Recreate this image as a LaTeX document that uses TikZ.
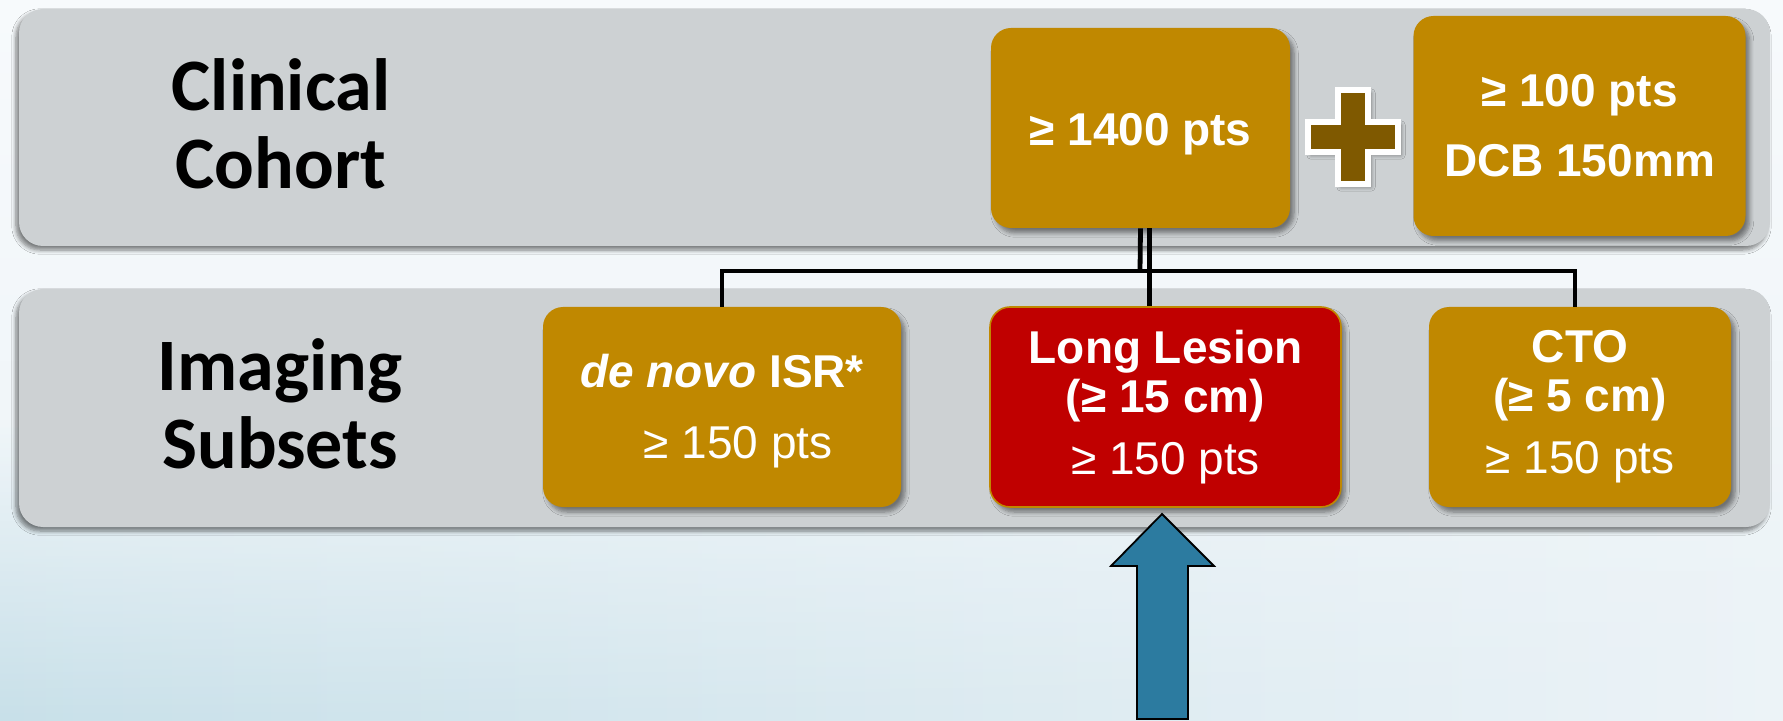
\documentclass[tikz,border=0pt]{standalone}
\usepackage{fontspec}
\setmainfont{Liberation Sans}
\newfontfamily\carlitofont{Carlito}
\usetikzlibrary{shadows.blur,fadings}
\definecolor{gold}{RGB}{192,136,0}
\definecolor{lesionred}{RGB}{192,0,0}
\definecolor{plusbrown}{RGB}{127,89,0}
\definecolor{bandgray}{RGB}{205,209,211}
\definecolor{bgtop}{RGB}{247,250,252}
\definecolor{bgmid}{RGB}{236,243,247}
\definecolor{bgbot}{RGB}{200,224,233}
\definecolor{arrowblue}{RGB}{44,123,160}
\begin{document}
\begin{tikzpicture}[x=0.5pt,y=-0.5pt,
  band/.style={fill=bandgray, rounded corners=12pt, inner sep=0pt,
    blur shadow={shadow xshift=-1.5pt, shadow yshift=-2pt, shadow blur steps=6, shadow opacity=50}},
  rowlabel/.style={align=center, font=\carlitofont\bfseries\fontsize{37}{39}\selectfont, text=black},
  box/.style={fill=gold, rounded corners=10pt, text=white, align=center, inner sep=0pt,
    font=\fontsize{23}{24.5}\selectfont\bfseries,
    blur shadow={shadow xshift=2pt, shadow yshift=-2.5pt, shadow blur steps=6, shadow opacity=45}},
  conn/.style={line width=2.4pt, black},
]
\useasboundingbox (0,0) rectangle (1783,721);
\shade[top color=bgtop, bottom color=bgmid] (0,0) rectangle (1783,721);
\shade[left color=bgbot, right color=bgmid, path fading=north] (0,420) rectangle (1783,721);

% bands
\node[band, minimum width=875.5pt, minimum height=118.5pt] (cband) at (894.5,127.5) {};
\node[band, minimum width=875.5pt, minimum height=119pt] (iband) at (894.5,408) {};

% row labels
\node[rowlabel] (clin) at (281,124) {Clinical\\Cohort};
\node[rowlabel] (imag) at (280,404) {Imaging\\Subsets};

% top boxes
\node[box, minimum width=149.5pt, minimum height=100pt] (c1400) at (1140.5,128) {\raisebox{-3pt}[\height][\depth]{≥ 1400 pts}};
\node[box, minimum width=166pt, minimum height=110pt] (dcb) at (1579.5,126) {≥ 100 pts\\[10.5pt]DCB 150mm};

% plus sign
\draw[fill=plusbrown, draw=white, line width=3pt,
  blur shadow={shadow xshift=1.5pt, shadow yshift=-1.5pt, shadow blur steps=4, shadow opacity=40}]
  (1353,137) ++(-15,-47) -- ++(30,0) -- ++(0,32) -- ++(30,0) -- ++(0,30) -- ++(-30,0)
  -- ++(0,32) -- ++(-30,0) -- ++(0,-32) -- ++(-30,0) -- ++(0,-30) -- ++(30,0) -- cycle;

% bottom boxes
\node[box, minimum width=179pt, minimum height=100pt] (dn) at (722,407) {\raisebox{-1.5pt}[\height][\depth]{\textit{de novo} ISR*}\\[9.5pt]{\mdseries\hspace*{16pt}\raisebox{-3pt}[\height][\depth]{≥ 150 pts}}};
\node[box, fill=lesionred, draw=gold, line width=0.8pt, minimum width=175.5pt, minimum height=100pt] (ll) at (1165.5,407) {Long Lesion\\(≥ 15 cm)\\[6.5pt]{\mdseries ≥ 150 pts}};
\node[box, minimum width=151pt, minimum height=100pt] (cto) at (1580,407) {CTO\\(≥ 5 cm)\\[6.5pt]{\mdseries ≥ 150 pts}};

% connectors
\coordinate (j) at (1140,271);
\draw[conn] (c1400.south) -- (j);
\draw[conn] (dn.north) -- (dn.north |- j) -- ([xshift=-2.5pt]cto.north |- j) -- ([xshift=-2.5pt]cto.north);
\draw[conn] ([xshift=4.5pt]c1400.south) -- ([xshift=4.5pt]c1400.south |- ll.north);

% up arrow
\draw[fill=arrowblue, line width=0.9pt, line join=miter]
  (1162,514) -- (1214,566) -- (1188,566) -- (1188,719) -- (1137,719) -- (1137,566) -- (1111,566) -- cycle;
\end{tikzpicture}
\end{document}
